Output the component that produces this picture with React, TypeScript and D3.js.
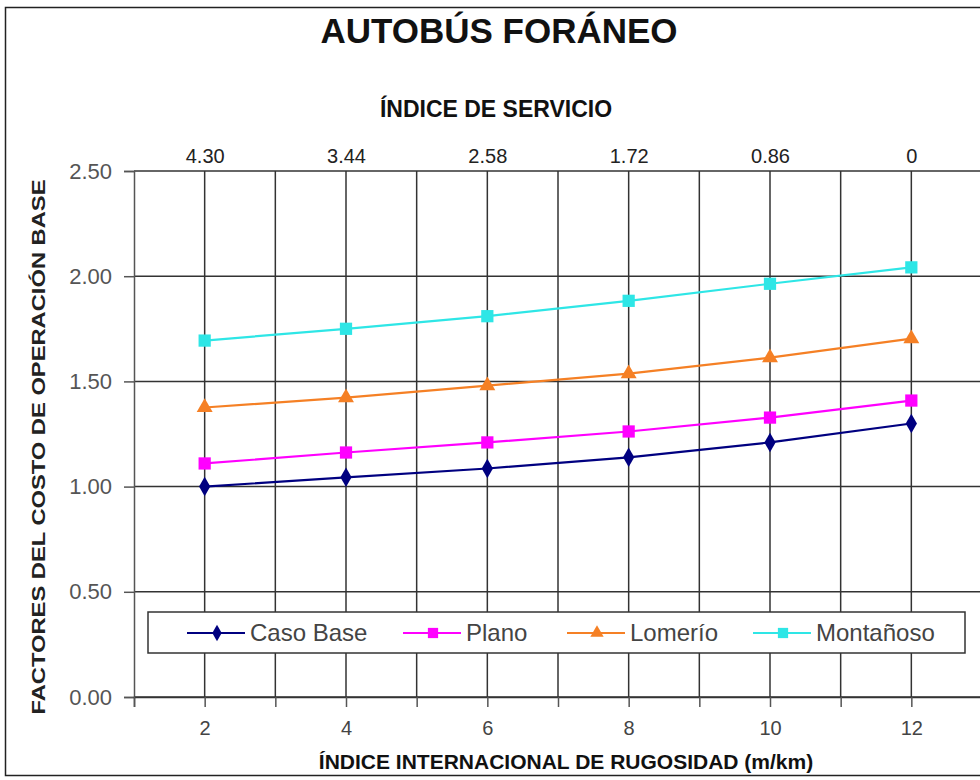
import * as d3 from 'd3';
import { useEffect, useRef } from 'react';

const rugosidad = [2, 4, 6, 8, 10, 12];
const indiceServicio = ['4.30', '3.44', '2.58', '1.72', '0.86', '0'];
const yTicks = [0, 0.5, 1, 1.5, 2, 2.5];

const casoBase = [1.0, 1.044, 1.086, 1.139, 1.21, 1.3];
const plano = [1.11, 1.162, 1.21, 1.262, 1.328, 1.409];
const lomerio = [1.376, 1.423, 1.48, 1.537, 1.613, 1.703];
const montanoso = [1.694, 1.75, 1.81, 1.883, 1.964, 2.042];

const seriesNames = ['Caso Base', 'Plano', 'Lomerío', 'Montañoso'];
const seriesColors = ['#000080', '#ff00ff', '#f58025', '#2ee6e6'];
const seriesSymbols = [d3.symbolDiamond, d3.symbolSquare, d3.symbolTriangle, d3.symbolSquare];
const symbolSizes = [110, 150, 110, 150];

const SANS = '"Liberation Sans", Arial, sans-serif';

export default function App() {
  const svgRef = useRef<SVGSVGElement>(null);

  useEffect(() => {
    const svg = d3.select(svgRef.current!);
    svg.selectAll('*').remove();

    const x = d3.scaleLinear().domain([1, 13]).range([134, 982]);
    const y = d3.scaleLinear().domain([0, 2.5]).range([697, 171]);

    svg.append('rect').attr('width', 980).attr('height', 780).attr('fill', '#fff');
    svg
      .append('rect')
      .attr('x', 5.5)
      .attr('y', 7.5)
      .attr('width', 990)
      .attr('height', 768)
      .attr('fill', 'none')
      .attr('stroke', '#222')
      .attr('stroke-width', 1.5);

    // grid
    const grid = svg.append('g').attr('stroke', '#333').attr('stroke-width', 1.5);
    d3.range(2, 14).forEach((v) => {
      grid.append('line').attr('x1', x(v)).attr('x2', x(v)).attr('y1', y(0)).attr('y2', y(2.5));
    });
    yTicks.forEach((v) => {
      grid.append('line').attr('x1', x(1)).attr('x2', x(13)).attr('y1', y(v)).attr('y2', y(v));
    });

    // left axis
    svg
      .append('g')
      .attr('transform', `translate(${x(1)},0)`)
      .call(d3.axisLeft(y).tickValues(yTicks).tickFormat(d3.format('.2f')).tickSize(10).tickPadding(12))
      .call((g) => {
        g.select('.domain').attr('stroke', '#555').attr('stroke-width', 1.5);
        g.selectAll('.tick line').attr('stroke', '#555').attr('stroke-width', 1.5);
        g.selectAll('text').attr('font-family', SANS).attr('font-size', 22).attr('fill', '#555');
      });

    // bottom axis
    svg
      .append('g')
      .attr('transform', `translate(0,${y(0)})`)
      .call(
        d3
          .axisBottom(x)
          .tickValues(d3.range(1, 14))
          .tickFormat((d) => (rugosidad.includes(d as number) ? String(d) : ''))
          .tickSize(10)
          .tickPadding(14)
      )
      .call((g) => {
        g.select('.domain').attr('stroke', '#333').attr('stroke-width', 1.5);
        g.selectAll('.tick line').attr('stroke', '#555').attr('stroke-width', 1.5);
        g.selectAll('text').attr('font-family', SANS).attr('font-size', 20).attr('fill', '#444');
      });

    // top axis (índice de servicio)
    const xTop = d3.scalePoint<string>().domain(indiceServicio).range([x(2), x(12)]);
    svg
      .append('g')
      .attr('transform', `translate(0,${y(2.5)})`)
      .call(d3.axisTop(xTop).tickSize(0).tickPadding(8))
      .call((g) => {
        g.select('.domain').remove();
        g.selectAll('text').attr('font-family', SANS).attr('font-size', 20).attr('fill', '#222');
      });

    // series
    const allSeries = [casoBase, plano, lomerio, montanoso];
    const line = d3
      .line<number>()
      .x((_, i) => x(rugosidad[i]))
      .y((d) => y(d));

    allSeries.forEach((values, s) => {
      svg
        .append('path')
        .datum(values)
        .attr('d', line)
        .attr('fill', 'none')
        .attr('stroke', seriesColors[s])
        .attr('stroke-width', 2.2);
      svg
        .append('g')
        .selectAll('path')
        .data(values)
        .enter()
        .append('path')
        .attr('transform', (d, i) => `translate(${x(rugosidad[i])},${y(d)})`)
        .attr('d', d3.symbol().type(seriesSymbols[s]).size(symbolSizes[s])())
        .attr('fill', seriesColors[s]);
    });

    // legend
    const legend = svg.append('g');
    legend
      .append('rect')
      .attr('x', 148)
      .attr('y', 612)
      .attr('width', 817)
      .attr('height', 41)
      .attr('fill', '#fff')
      .attr('stroke', '#333')
      .attr('stroke-width', 1.5);
    const legendX = [187, 403, 567, 753];
    seriesNames.forEach((name, s) => {
      const lx = legendX[s];
      legend
        .append('line')
        .attr('x1', lx)
        .attr('x2', lx + 58)
        .attr('y1', 633)
        .attr('y2', 633)
        .attr('stroke', seriesColors[s])
        .attr('stroke-width', 2.2);
      legend
        .append('path')
        .attr('transform', `translate(${lx + 30},633)`)
        .attr('d', d3.symbol().type(seriesSymbols[s]).size(symbolSizes[s] * 0.7)())
        .attr('fill', seriesColors[s]);
      legend
        .append('text')
        .attr('x', lx + 63)
        .attr('y', 641)
        .attr('font-family', SANS)
        .attr('font-size', 24)
        .attr('fill', '#444')
        .text(name);
    });

    // titles
    svg
      .append('text')
      .attr('x', 499)
      .attr('y', 43)
      .attr('text-anchor', 'middle')
      .attr('font-family', SANS)
      .attr('font-weight', 'bold')
      .attr('font-size', 35)
      .attr('fill', '#111')
      .text('AUTOBÚS FORÁNEO');

    svg
      .append('text')
      .attr('x', 496)
      .attr('y', 117)
      .attr('text-anchor', 'middle')
      .attr('font-family', SANS)
      .attr('font-weight', 'bold')
      .attr('font-size', 23)
      .attr('fill', '#111')
      .text('ÍNDICE DE SERVICIO');

    svg
      .append('text')
      .attr('x', 566)
      .attr('y', 769)
      .attr('text-anchor', 'middle')
      .attr('font-family', SANS)
      .attr('font-weight', 'bold')
      .attr('font-size', 21)
      .attr('fill', '#111')
      .text('ÍNDICE INTERNACIONAL  DE RUGOSIDAD (m/km)');

    svg
      .append('text')
      .attr('transform', `translate(45,${447}) rotate(-90)`)
      .attr('text-anchor', 'middle')
      .attr('font-family', SANS)
      .attr('font-weight', 'bold')
      .attr('font-size', 19)
      .attr('fill', '#222')
      .attr('textLength', 535)
      .attr('lengthAdjust', 'spacingAndGlyphs')
      .text('FACTORES DEL COSTO DE OPERACIÓN BASE');
  }, []);

  return (
    <svg
      ref={svgRef}
      width={980}
      height={780}
      style={{ position: 'absolute', left: 0, top: 0, display: 'block' }}
    />
  );
}
